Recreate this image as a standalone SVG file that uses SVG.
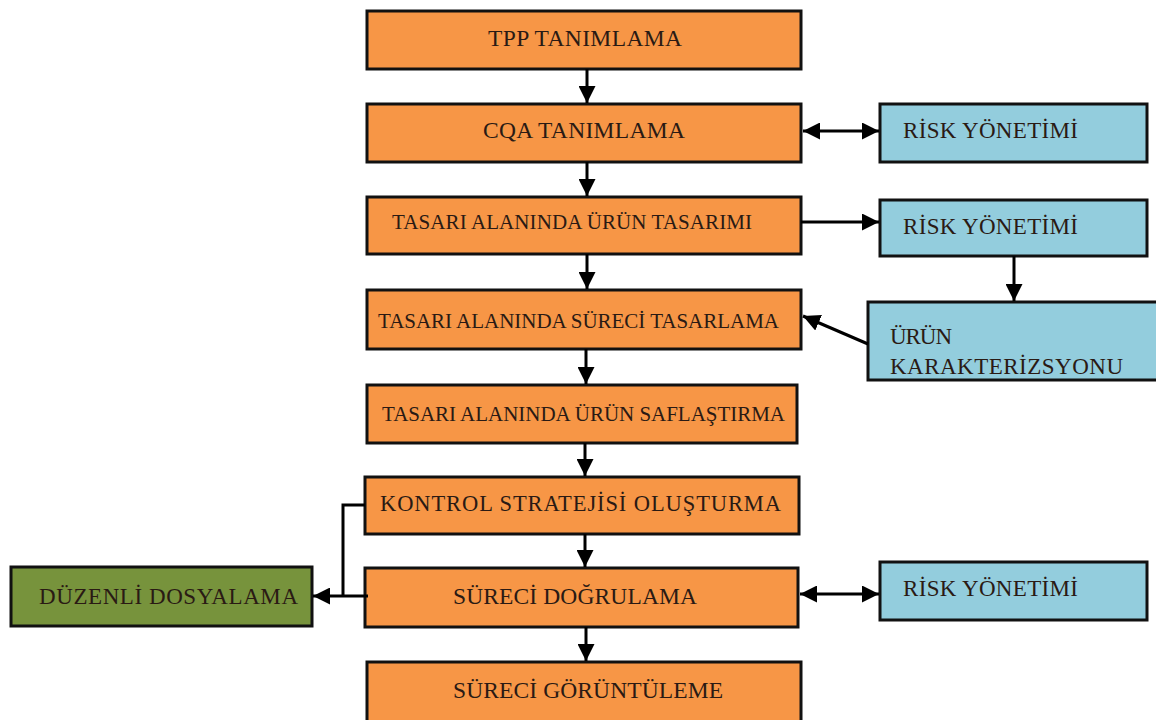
<svg xmlns="http://www.w3.org/2000/svg" width="1156" height="720" viewBox="0 0 1156 720">
  <defs>
    <style>
      .box { stroke: #111; stroke-width: 3; }
      .orange { fill: #F79646; }
      .blue { fill: #93CDDD; }
      .green { fill: #77933C; }
      .lbl { font-family: "Liberation Serif", "Times New Roman", serif; fill: #2a1a14; }
      .wire { stroke: #000; stroke-width: 3; fill: none; }
    </style>
    <marker id="head" viewBox="0 0 10 10" refX="10" refY="5" markerUnits="userSpaceOnUse" markerWidth="17" markerHeight="17" orient="auto-start-reverse">
      <path d="M0,0 L10,5 L0,10 Z" fill="#000"/>
    </marker>
  </defs>
  <rect width="1156" height="720" fill="#fff"/>

  <!-- main flow -->
  <g id="tpp">
    <rect class="box orange" x="367" y="11" width="434" height="58"/>
    <text class="lbl" x="488" y="46" font-size="23.5" textLength="194">TPP TANIMLAMA</text>
  </g>
  <g id="cqa">
    <rect class="box orange" x="367" y="104" width="434" height="58"/>
    <text class="lbl" x="483" y="138" font-size="23.5" textLength="202">CQA TANIMLAMA</text>
  </g>
  <g id="urun-tasarimi">
    <rect class="box orange" x="367" y="197" width="434" height="57"/>
    <text class="lbl" x="392" y="229" font-size="21" textLength="360">TASARI ALANINDA ÜRÜN TASARIMI</text>
  </g>
  <g id="surec-tasarlama">
    <rect class="box orange" x="367" y="290" width="434" height="59"/>
    <text class="lbl" x="378" y="328" font-size="21" textLength="401">TASARI ALANINDA SÜRECİ TASARLAMA</text>
  </g>
  <g id="saflastirma">
    <rect class="box orange" x="367" y="385" width="430" height="58"/>
    <text class="lbl" x="382" y="421" font-size="21" textLength="403">TASARI ALANINDA ÜRÜN SAFLAŞTIRMA</text>
  </g>
  <g id="kontrol">
    <rect class="box orange" x="365" y="477" width="434" height="57"/>
    <text class="lbl" x="380" y="511" font-size="22.5" textLength="401">KONTROL STRATEJİSİ OLUŞTURMA</text>
  </g>
  <g id="dogrulama">
    <rect class="box orange" x="365" y="568" width="433" height="59"/>
    <text class="lbl" x="453" y="604" font-size="23.5" textLength="244">SÜRECİ DOĞRULAMA</text>
  </g>
  <g id="goruntuleme">
    <rect class="box orange" x="367" y="662" width="434" height="60"/>
    <text class="lbl" x="453" y="698" font-size="23.5" textLength="270">SÜRECİ GÖRÜNTÜLEME</text>
  </g>

  <!-- side boxes -->
  <g id="risk-1">
    <rect class="box blue" x="880" y="104" width="267" height="58"/>
    <text class="lbl" x="903" y="138" font-size="23" textLength="175">RİSK YÖNETİMİ</text>
  </g>
  <g id="risk-2">
    <rect class="box blue" x="880" y="200" width="267" height="56"/>
    <text class="lbl" x="903" y="234" font-size="23" textLength="175">RİSK YÖNETİMİ</text>
  </g>
  <g id="karakterizasyon">
    <rect class="box blue" x="868" y="302" width="300" height="78"/>
    <text class="lbl" x="890" y="344" font-size="23" textLength="62">ÜRÜN</text>
    <text class="lbl" x="890" y="374" font-size="23" textLength="233">KARAKTERİZSYONU</text>
  </g>
  <g id="risk-3">
    <rect class="box blue" x="880" y="562" width="267" height="58"/>
    <text class="lbl" x="903" y="596" font-size="23" textLength="175">RİSK YÖNETİMİ</text>
  </g>
  <g id="dosyalama">
    <rect class="box green" x="11" y="567" width="301" height="59"/>
    <text class="lbl" x="39" y="604" font-size="23" textLength="259">DÜZENLİ DOSYALAMA</text>
  </g>

  <!-- connectors -->
  <g id="connectors">
    <line class="wire" x1="587" y1="69" x2="587" y2="103" marker-end="url(#head)"/>
    <line class="wire" x1="587" y1="162" x2="587" y2="196" marker-end="url(#head)"/>
    <line class="wire" x1="587" y1="254" x2="587" y2="289" marker-end="url(#head)"/>
    <line class="wire" x1="586" y1="349" x2="586" y2="384" marker-end="url(#head)"/>
    <line class="wire" x1="585" y1="443" x2="585" y2="476" marker-end="url(#head)"/>
    <line class="wire" x1="585" y1="534" x2="585" y2="567" marker-end="url(#head)"/>
    <line class="wire" x1="586" y1="627" x2="586" y2="661" marker-end="url(#head)"/>

    <line class="wire" x1="803" y1="131" x2="879" y2="131" marker-start="url(#head)" marker-end="url(#head)"/>
    <line class="wire" x1="801" y1="222" x2="879" y2="222" marker-end="url(#head)"/>
    <line class="wire" x1="1014" y1="256" x2="1014" y2="301" marker-end="url(#head)"/>
    <line class="wire" x1="868" y1="344" x2="803" y2="316" marker-end="url(#head)"/>
    <line class="wire" x1="800" y1="594" x2="879" y2="594" marker-start="url(#head)" marker-end="url(#head)"/>

    <polyline class="wire" points="365,505 343,505 343,596"/>
    <line class="wire" x1="368" y1="596" x2="313" y2="596" marker-end="url(#head)"/>
  </g>
</svg>
